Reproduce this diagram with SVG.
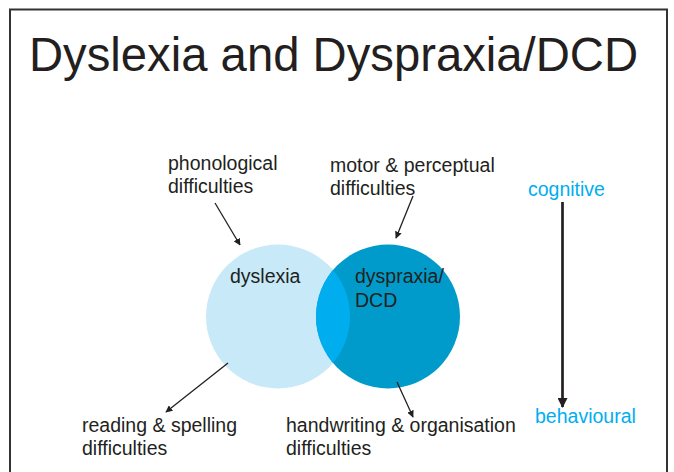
<svg xmlns="http://www.w3.org/2000/svg" width="674" height="472" viewBox="0 0 674 472">
<style>
text{font-family:"Liberation Sans",Arial,sans-serif;fill:#231f20}
.lbl{font-size:19.5px}
.cy{font-size:19.5px;fill:#00aeef}
.ar{stroke:#231f20;stroke-width:1.3;fill:none;marker-end:url(#ah)}
</style>
<defs>
<marker id="ah" viewBox="0 0 10 10" refX="9" refY="5" markerWidth="7" markerHeight="7" markerUnits="userSpaceOnUse" orient="auto"><path d="M0,0 L10,5 L0,10 z" fill="#231f20"/></marker>
<marker id="ah2" viewBox="0 0 10 10" refX="9" refY="5" markerWidth="10" markerHeight="10" markerUnits="userSpaceOnUse" orient="auto"><path d="M0,0 L10,5 L0,10 z" fill="#231f20"/></marker>
<clipPath id="cl"><circle cx="278" cy="316.5" r="72"/></clipPath>
</defs>
<rect x="0" y="0" width="674" height="472" fill="#fff"/>
<path d="M10,480 V9.5 H667 V480" fill="none" stroke="#333" stroke-width="2"/>
<text x="29" y="71" font-size="47.3" textLength="609" lengthAdjust="spacingAndGlyphs">Dyslexia and Dyspraxia/DCD</text>
<g id="dyslexia">
<circle cx="278" cy="316.5" r="72" fill="#c7e9f8"/>
<text class="lbl" x="230" y="283">dyslexia</text>
</g>
<g id="dyspraxia">
<circle cx="388" cy="316.5" r="72" fill="#009bcb"/>
<circle cx="388" cy="316.5" r="72" fill="#00aeef" clip-path="url(#cl)"/>
<text class="lbl" x="355" y="283">dyspraxia/</text>
<text class="lbl" x="355" y="307">DCD</text>
</g>
<g id="phonological"><text class="lbl" x="168" y="170">phonological</text><text class="lbl" x="168" y="193">difficulties</text></g>
<g id="motor"><text class="lbl" x="330" y="172">motor &amp; perceptual</text><text class="lbl" x="330" y="195">difficulties</text></g>
<g id="reading"><text class="lbl" x="82" y="432">reading &amp; spelling</text><text class="lbl" x="82" y="455">difficulties</text></g>
<g id="handwriting"><text class="lbl" x="286" y="432">handwriting &amp; organisation</text><text class="lbl" x="286" y="455">difficulties</text></g>
<g id="cognitive"><text class="cy" x="528" y="196">cognitive</text></g>
<g id="behavioural"><text class="cy" x="535" y="423">behavioural</text></g>
<g id="connectors">
<line class="ar" x1="215" y1="203" x2="240" y2="245"/>
<line class="ar" x1="413" y1="196" x2="396" y2="238"/>
<line class="ar" x1="228" y1="363" x2="166" y2="412"/>
<line class="ar" x1="397" y1="382" x2="413" y2="417"/>
<line x1="562.5" y1="202" x2="562.5" y2="407" stroke="#231f20" stroke-width="2.7" marker-end="url(#ah2)"/>
</g>
</svg>
